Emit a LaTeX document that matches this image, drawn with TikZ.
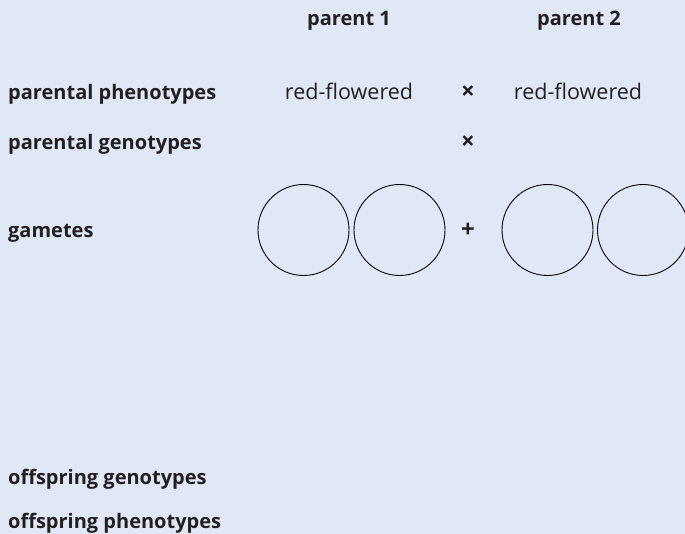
\documentclass[tikz,border=0pt]{standalone}
\usepackage{fontspec}
\setmainfont{Open Sans}
\definecolor{bgblue}{HTML}{E1E8F5}
\definecolor{ink}{HTML}{231F20}
\begin{document}
\begin{tikzpicture}[x=1pt, y=-1pt,
    lbl/.style={anchor=base west, inner sep=0pt, font=\fontsize{20}{24}\selectfont\bfseries, text=ink},
    val/.style={anchor=base, inner sep=0pt, font=\fontsize{21.5}{26}\selectfont, text=ink},
    head/.style={anchor=base, inner sep=0pt, font=\fontsize{20}{24}\selectfont\bfseries, text=ink},
    sym/.style={anchor=base, inner sep=0pt, font=\fontsize{24}{29}\selectfont\bfseries, text=ink},
    gamete/.style={circle, draw=black, line width=0.9pt, minimum size=91pt, inner sep=0pt}]
    % 1. Nền
    \fill[bgblue] (0,0) rectangle (685,534);
    \useasboundingbox (0,0) rectangle (685,534);

    % 2. Tiêu đề cột
    \node[head] (p1) at (349,26) {parent 1};
    \node[head] (p2) at (579,26) {parent 2};

    % 3. Nhãn các hàng
    \node[lbl] (phen) at (8,100) {parental phenotypes};
    \node[lbl] (gen) at (8,150) {parental genotypes};
    \node[lbl] (gam) at (8,238) {gametes};
    \node[lbl] (ogen) at (8,484) {offspring genotypes};
    \node[lbl] (ophen) at (8,528) {offspring phenotypes};

    % 4. Kiểu hình bố mẹ
    \node[val] (red1) at (349,100) {red-flowered};
    \node[sym] (cross1) at (468,100) {×};
    \node[val] (red2) at (578,100) {red-flowered};
    \node[sym] (cross2) at (468,150) {×};

    % 5. Giao tử
    \node[gamete] (g1) at (303.5,230) {};
    \node[gamete] (g2) at (399.5,230) {};
    \node[sym, anchor=center] (plus) at (468,230) {+};
    \node[gamete] (g3) at (547.5,230) {};
    \node[gamete] (g4) at (643,230) {};
\end{tikzpicture}
\end{document}
